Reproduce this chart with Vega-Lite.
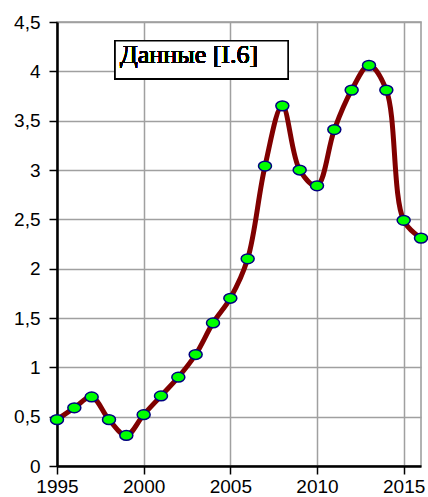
{
  "$schema": "https://vega.github.io/schema/vega-lite/v6.json",
  "width": 364,
  "height": 444,
  "autosize": {"type": "none"},
  "padding": {"left": 57, "top": 22, "right": 7, "bottom": 31},
  "background": "white",
  "view": {"stroke": "#999999", "strokeWidth": 1.5},
  "data": {"values": [
    {"year": 1995, "value": 0.47},
    {"year": 1996, "value": 0.59},
    {"year": 1997, "value": 0.70},
    {"year": 1998, "value": 0.47},
    {"year": 1999, "value": 0.31},
    {"year": 2000, "value": 0.52},
    {"year": 2001, "value": 0.71},
    {"year": 2002, "value": 0.90},
    {"year": 2003, "value": 1.13},
    {"year": 2004, "value": 1.45},
    {"year": 2005, "value": 1.70},
    {"year": 2006, "value": 2.10},
    {"year": 2007, "value": 3.04},
    {"year": 2008, "value": 3.65},
    {"year": 2009, "value": 3.00},
    {"year": 2010, "value": 2.84},
    {"year": 2011, "value": 3.41},
    {"year": 2012, "value": 3.81},
    {"year": 2013, "value": 4.06},
    {"year": 2014, "value": 3.81},
    {"year": 2015, "value": 2.49},
    {"year": 2016, "value": 2.31}
  ]},
  "encoding": {
    "x": {
      "field": "year", "type": "quantitative",
      "scale": {"domain": [1995, 2016], "nice": false, "zero": false},
      "axis": {
        "title": null, "values": [1995, 2000, 2005, 2010, 2015], "format": "d",
        "labelFont": "Liberation Sans", "labelFontSize": 19, "labelColor": "black",
        "labelPadding": 3, "labelFlush": false, "labelOverlap": false, "labelBaseline": "top",
        "domainColor": "black", "domainWidth": 2.5,
        "tickColor": "black", "tickWidth": 1.5, "tickSize": 8,
        "grid": true, "gridColor": "#a0a0a0", "gridWidth": 1.5
      }
    },
    "y": {
      "field": "value", "type": "quantitative",
      "scale": {"domain": [0, 4.5], "nice": false},
      "axis": {
        "title": null, "values": [0, 0.5, 1, 1.5, 2, 2.5, 3, 3.5, 4, 4.5],
        "labelExpr": "replace(format(datum.value, '~g'), '.', ',')",
        "labelFont": "Liberation Sans", "labelFontSize": 19, "labelColor": "black",
        "labelPadding": 9, "labelFlush": false, "labelOverlap": false,
        "domainColor": "black", "domainWidth": 2.5,
        "tickColor": "black", "tickWidth": 1.5, "tickSize": 8,
        "grid": true, "gridColor": "#a0a0a0", "gridWidth": 1.5
      }
    }
  },
  "layer": [
    {
      "mark": {"type": "line", "color": "#800000", "strokeWidth": 5, "interpolate": "catmull-rom", "clip": true}
    },
    {
      "mark": {
        "type": "point",
        "shape": "M-1,0 A1,0.75,0,1,1,1,0 A1,0.75,0,1,1,-1,0 Z",
        "size": 169, "filled": true, "fill": "#00FF00", "stroke": "#000080", "strokeWidth": 1.5, "opacity": 1
      }
    },
    {
      "mark": {"type": "rect", "fill": "white", "stroke": "black", "strokeWidth": 1.5},
      "encoding": {
        "x": {"datum": 1998.35}, "x2": {"datum": 2008.33},
        "y": {"datum": 4.31}, "y2": {"datum": 3.925}
      }
    },
    {
      "mark": {"type": "text", "text": "Данные [I.6]", "font": "Times New Roman, Liberation Serif, serif", "fontSize": 26, "fontWeight": "normal", "fontStyle": "normal", "fill": "black", "align": "left", "baseline": "alphabetic"},
      "encoding": {
        "x": {"datum": 1998.64},
        "y": {"datum": 4.084}
      }
    }
  ]
}
